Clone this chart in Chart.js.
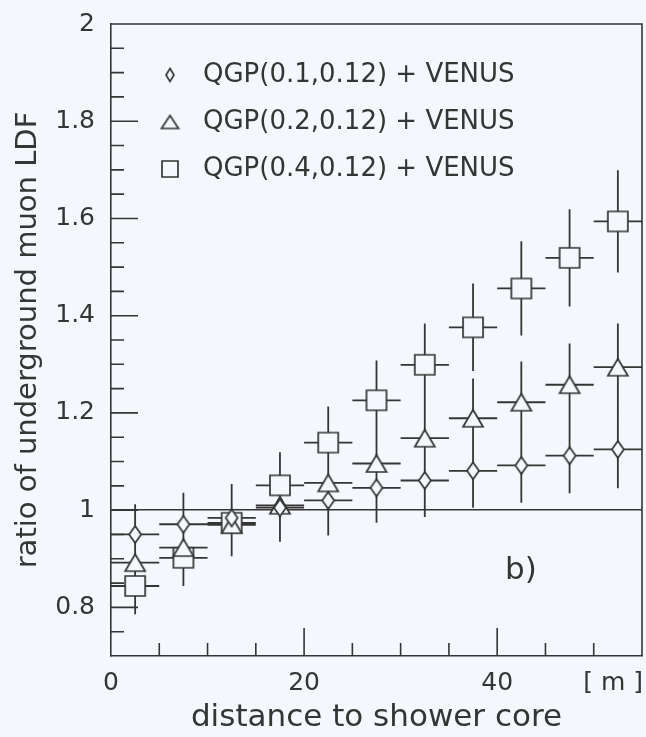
<!DOCTYPE html>
<html>
<head>
<meta charset="utf-8">
<script src="https://cdn.jsdelivr.net/npm/chart.js@4.4.1/dist/chart.umd.min.js"></script>
<style>
  body { margin: 0; background: #f4f7fb; }
  canvas { display: block; }
</style>
</head>
<body>
<canvas id="ldfRatio" width="646" height="737"></canvas>
<script>

// distance bins (bin centres, m) and half bin width
const distance = [2.5, 7.5, 12.5, 17.5, 22.5, 27.5, 32.5, 37.5, 42.5, 47.5, 52.5]
const binHalf = 2.5

const seriesNames = ['QGP(0.1,0.12) + VENUS', 'QGP(0.2,0.12) + VENUS', 'QGP(0.4,0.12) + VENUS']

const ratioQgp01 = [0.950, 0.971, 0.984, 1.005, 1.020, 1.046, 1.061, 1.081, 1.092, 1.112, 1.125]
const errQgp01   = [0.062, 0.065, 0.070, 0.070, 0.072, 0.072, 0.075, 0.076, 0.077, 0.077, 0.080]

const ratioQgp02 = [0.892, 0.923, 0.970, 1.010, 1.056, 1.096, 1.148, 1.189, 1.222, 1.258, 1.294]
const errQgp02   = [0.060, 0.062, 0.065, 0.066, 0.070, 0.075, 0.078, 0.082, 0.084, 0.085, 0.090]

const ratioQgp04 = [0.844, 0.902, 0.974, 1.051, 1.139, 1.226, 1.299, 1.376, 1.456, 1.519, 1.594]
const errQgp04   = [0.058, 0.058, 0.068, 0.068, 0.074, 0.082, 0.085, 0.090, 0.097, 0.100, 0.105]

const yLabels = ['0.8', '1', '1.2', '1.4', '1.6', '1.8', '2']
const xLabels = ['0', '20', '40']

const ink = '#353535'
const paper = '#f4f7fb'
const fontFamily = '"DejaVu Sans", sans-serif'

// hollow marker images, filled with the paper colour so the bars stop at the edge
function marker(shape, w, h) {
    const c = document.createElement('canvas')
    c.width = w + 4
    c.height = h + 4
    const g = c.getContext('2d')
    g.translate(2, 2)
    g.beginPath()
    if (shape == 'diamond') {
        g.moveTo(w / 2, 0); g.lineTo(w, h / 2); g.lineTo(w / 2, h); g.lineTo(0, h / 2)
        g.closePath()
    } else if (shape == 'triangle') {
        g.moveTo(w / 2, 0); g.lineTo(w, h); g.lineTo(0, h)
        g.closePath()
    } else {
        g.rect(0, 0, w, h)
    }
    g.fillStyle = paper
    g.fill()
    g.lineWidth = 1.7
    g.strokeStyle = ink
    g.stroke()
    return c
}

const plotMarkers = [marker('diamond', 12, 17), marker('triangle', 20, 17), marker('square', 20, 20)]
const keyMarkers = [marker('diamond', 8, 13), marker('triangle', 17, 13), marker('square', 16, 16)]

function points(ys) {
    return distance.map((x, i) => ({x: x, y: ys[i]}))
}

const ratios = [ratioQgp01, ratioQgp02, ratioQgp04]
const errors = [errQgp01, errQgp02, errQgp04]

const datasets = ratios.map((ys, k) => ({
    label: seriesNames[k],
    data: points(ys),
    yErr: errors[k],
    pointStyle: plotMarkers[k],
    showLine: false
}))

// the frame is set by layout.padding alone, not by label overhang
function noOverhang(s) {
    s.paddingTop = 0
    s.paddingBottom = 0
    s.paddingLeft = 0
    s.paddingRight = 0
}

// background, frame, inward ticks, error bars
const paperPlugin = {
    id: 'paper',
    beforeDraw(chart) {
        const ctx = chart.ctx
        ctx.save()
        ctx.fillStyle = paper
        ctx.fillRect(0, 0, chart.width, chart.height)
        ctx.restore()
    },
    beforeDatasetsDraw(chart) {
        const ctx = chart.ctx
        const a = chart.chartArea
        const xs = chart.scales.x
        const ys = chart.scales.y
        ctx.save()
        ctx.strokeStyle = ink
        ctx.lineWidth = 1.6

        // top and right edges of the frame
        ctx.beginPath()
        ctx.moveTo(a.left, a.top); ctx.lineTo(a.right, a.top); ctx.lineTo(a.right, a.bottom)
        ctx.stroke()

        // ticks pointing into the plot, long ones where there is a label
        ctx.beginPath()
        xs.ticks.forEach(t => {
            const px = xs.getPixelForValue(t.value)
            if (px <= a.left + 1 || px >= a.right - 1) return
            const len = xLabels.includes(t.label) ? 28 : 13
            ctx.moveTo(px, a.bottom); ctx.lineTo(px, a.bottom - len)
        })
        ys.ticks.forEach(t => {
            const py = ys.getPixelForValue(t.value)
            if (py <= a.top + 1 || py >= a.bottom - 1) return
            const len = yLabels.includes(t.label) ? 27 : 13
            ctx.moveTo(a.left, py); ctx.lineTo(a.left + len, py)
        })
        ctx.stroke()

        // error bars: bin width across, statistical error up and down
        ctx.lineWidth = 1.8
        ctx.beginPath()
        chart.data.datasets.forEach(ds => {
            ds.data.forEach((p, i) => {
                const px = xs.getPixelForValue(p.x)
                const py = ys.getPixelForValue(p.y)
                ctx.moveTo(xs.getPixelForValue(p.x - binHalf), py)
                ctx.lineTo(xs.getPixelForValue(p.x + binHalf), py)
                ctx.moveTo(px, ys.getPixelForValue(p.y + ds.yErr[i]))
                ctx.lineTo(px, ys.getPixelForValue(p.y - ds.yErr[i]))
            })
        })
        ctx.stroke()
        ctx.restore()
    },
    afterDraw(chart) {
        const ctx = chart.ctx
        const a = chart.chartArea
        ctx.save()
        ctx.fillStyle = ink
        ctx.textBaseline = 'middle'

        // key in the upper left corner
        ctx.font = '26px ' + fontFamily
        seriesNames.forEach((name, k) => {
            const y = a.top + 51 + k * 47
            const m = keyMarkers[k]
            ctx.drawImage(m, a.left + 59 - m.width / 2, y - m.height / 2)
            ctx.fillText(name, a.left + 92, y)
        })

        // panel tag
        ctx.font = '31px ' + fontFamily
        ctx.textAlign = 'center'
        ctx.fillText('b)', a.left + 410, a.bottom - 85)

        // unit next to the distance tick labels
        ctx.font = '25px ' + fontFamily
        ctx.textAlign = 'right'
        ctx.fillText('[ m ]', a.right + 1, a.bottom + 27)
        ctx.restore()
    }
}

new Chart(document.getElementById('ldfRatio'), {
    type: 'scatter',
    data: {datasets: datasets},
    options: {
        responsive: false,
        animation: false,
        events: [],
        layout: {padding: {top: 24, right: 3, left: 0, bottom: 0}},
        // markers are images; a tiny radius keeps them from widening the margins
        elements: {point: {radius: 1, borderWidth: 0}},
        plugins: {
            legend: {display: false},
            tooltip: {enabled: false}
        },
        scales: {
            x: {
                type: 'linear',
                min: 0,
                max: 55,
                afterFit: s => { s.height = 81; noOverhang(s) },
                border: {display: true, color: ink, width: 1.6},
                grid: {display: false, drawTicks: false},
                ticks: {
                    stepSize: 5,
                    autoSkip: false,
                    maxRotation: 0,
                    padding: 12,
                    color: ink,
                    font: {family: fontFamily, size: 25},
                    callback: v => xLabels.includes(String(v)) ? String(v) : ''
                },
                title: {
                    display: true,
                    text: 'distance to shower core',
                    color: ink,
                    font: {family: fontFamily, size: 31},
                    padding: {top: 0, bottom: 0}
                }
            },
            y: {
                type: 'linear',
                min: 0.7,
                max: 2.0,
                afterFit: s => { s.width = 111; noOverhang(s) },
                border: {display: true, color: ink, width: 1.6},
                grid: {
                    drawTicks: false,
                    lineWidth: 1.6,
                    // only the ratio = 1 reference line
                    color: c => Math.abs(c.tick.value - 1) < 1e-6 ? ink : 'rgba(0,0,0,0)'
                },
                ticks: {
                    stepSize: 0.05,
                    autoSkip: false,
                    padding: 16,
                    color: ink,
                    font: {family: fontFamily, size: 25},
                    callback: v => {
                        const s = String(Math.round(v * 100) / 100)
                        return yLabels.includes(s) ? s : ''
                    }
                },
                title: {
                    display: true,
                    text: 'ratio of underground muon LDF',
                    color: ink,
                    font: {family: fontFamily, size: 29},
                    padding: {top: 11, bottom: 0}
                }
            }
        }
    },
    plugins: [paperPlugin]
})
</script>
</body>
</html>
